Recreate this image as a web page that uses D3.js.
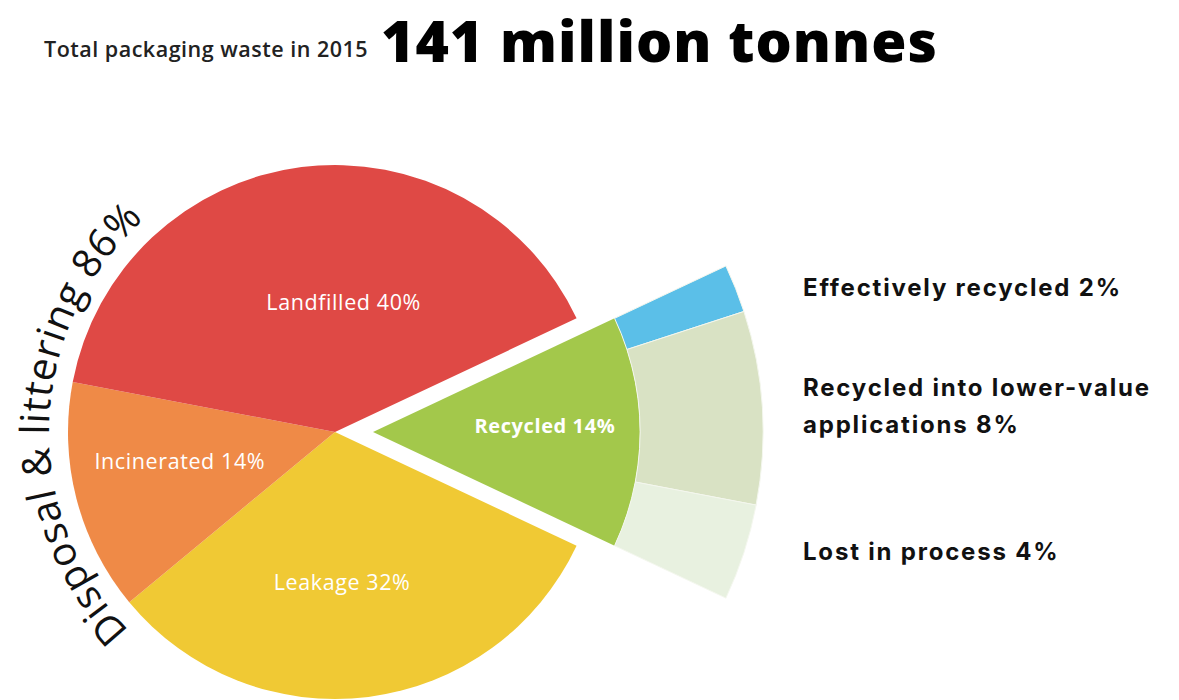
<!doctype html>
<html lang="en">
  <head>
    <meta charset="utf-8">
    <title>Packaging waste 2015</title>
    <script src="https://d3js.org/d3.v7.min.js"></script>
    <style>
      body { margin: 0; background: #fff; }
      svg { display: block; }
    </style>
  </head>
  <body>
    <div class="chart-container"></div>
    <script type="text/javascript">
    // Data
    const totalLabel = "Total packaging waste in 2015";
    const totalValue = "141 million tonnes";

    const mainNames = ["Recycled", "Leakage", "Incinerated", "Landfilled"];
    const mainValues = [14, 32, 14, 40];

    const recycledNames = ["Effectively recycled", "Recycled into lower-value applications", "Lost in process"];
    const recycledValues = [2, 8, 4];

    const groupName = "Disposal & littering";
    const groupValue = 86;

    // Layout
    var width = 1179,
        height = 700,
        cx = 335,
        cy = 432,
        radius = 267,
        ringOuter = 390,
        explode = 38;

    const colors = {
        "Recycled": "#a3c84b",
        "Leakage": "#f0c934",
        "Incinerated": "#ef8a47",
        "Landfilled": "#df4945"
    };
    const ringColors = ["#5bbfe8", "#d9e2c4", "#e8f1e0"];

    const svg = d3.select(".chart-container")
        .append("svg")
        .attr("width", width)
        .attr("height", height);

    // Title
    svg.append("text")
        .attr("x", 44)
        .attr("y", 57)
        .style("font", "600 21.5px 'Open Sans'")
        .attr("letter-spacing", "0.5px")
        .attr("fill", "#222")
        .text(totalLabel);
    svg.append("text")
        .attr("x", 381)
        .attr("y", 62)
        .style("font", "800 57px 'Open Sans'")
        .attr("letter-spacing", "1px")
        .attr("fill", "#000")
        .text(totalValue);

    // Pie: recycled slice centred on 3 o'clock
    const total = d3.sum(mainValues);
    const start = Math.PI / 2 - Math.PI * mainValues[0] / total;
    const pie = d3.pie()
        .sort(null)
        .startAngle(start)
        .endAngle(start + 2 * Math.PI);
    const slices = pie(mainValues);

    const arc = d3.arc().innerRadius(0).outerRadius(radius);

    const gPie = svg.append("g")
        .attr("transform", `translate(${cx},${cy})`);

    const offset = d => {
        if (d.index !== 0) return [0, 0];
        const a = (d.startAngle + d.endAngle) / 2;
        return [explode * Math.sin(a), -explode * Math.cos(a)];
    };

    gPie.selectAll("path.slice")
        .data(slices)
        .join("path")
        .attr("class", "slice")
        .attr("transform", d => `translate(${offset(d)})`)
        .attr("d", arc)
        .attr("fill", (d, i) => colors[mainNames[i]]);

    // Outer ring splitting the recycled share
    const rec = slices[0];
    const recOff = offset(rec);
    const subPie = d3.pie()
        .sort(null)
        .startAngle(rec.startAngle)
        .endAngle(rec.endAngle);
    const subSlices = subPie(recycledValues);
    const ringArc = d3.arc().innerRadius(radius).outerRadius(ringOuter);

    const gRing = gPie.append("g")
        .attr("transform", `translate(${recOff})`);

    gRing.selectAll("path")
        .data(subSlices)
        .join("path")
        .attr("d", ringArc)
        .attr("fill", (d, i) => ringColors[i])
        .attr("stroke", "#f4f7ee")
        .attr("stroke-width", 1);

    // Slice labels
    const labelRadius = {"Recycled": 172, "Leakage": 151, "Incinerated": 158, "Landfilled": 130};
    const labelTurn = {"Recycled": -2, "Leakage": 4.5, "Incinerated": 3.5, "Landfilled": 11};

    gPie.selectAll("text.slice-label")
        .data(slices)
        .join("text")
        .attr("class", "slice-label")
        .attr("transform", (d, i) => {
            const name = mainNames[i];
            const a = (d.startAngle + d.endAngle) / 2 + labelTurn[name] * Math.PI / 180;
            const o = offset(d);
            const r = labelRadius[name];
            return `translate(${o[0] + r * Math.sin(a)},${o[1] - r * Math.cos(a)})`;
        })
        .attr("text-anchor", "middle")
        .attr("dy", "0.35em")
        .attr("fill", "#fff")
        .attr("letter-spacing", "0.6px")
        .style("font", (d, i) => i === 0 ? "700 20px 'Open Sans'" : "400 21.5px 'Open Sans'")
        .text((d, i) => `${mainNames[i]} ${mainValues[i]}%`);

    // Labels for the ring, to the right
    const wrap = {
        "Recycled into lower-value applications": ["Recycled into lower-value", "applications"]
    };
    const ringLabels = svg.append("g")
        .style("font", "700 24px Inter")
        .attr("letter-spacing", "1.8px")
        .attr("fill", "#111");

    subSlices.forEach((d, i) => {
        const a = (d.startAngle + d.endAngle) / 2;
        const y = cy + recOff[1] - ringOuter * Math.cos(a);
        const lines = (wrap[recycledNames[i]] || [recycledNames[i]]).slice();
        lines[lines.length - 1] += ` ${recycledValues[i]}%`;
        const t = ringLabels.append("text")
            .attr("y", y - (lines.length - 1) * 18.5);
        lines.forEach((line, j) => {
            t.append("tspan")
                .attr("x", 803)
                .attr("dy", j === 0 ? "0.3em" : 37)
                .text(line);
        });
    });

    // Curved group label along the disposal slices
    const a0 = 226 * Math.PI / 180,
        a1 = 318 * Math.PI / 180,
        rText = 286;
    const p = d3.path();
    p.moveTo(cx + rText * Math.sin(a0), cy - rText * Math.cos(a0));
    p.arc(cx, cy, rText, a0 - Math.PI / 2, a1 - Math.PI / 2, false);

    svg.append("path")
        .attr("id", "group-arc")
        .attr("d", p.toString())
        .attr("fill", "none");

    svg.append("text")
        .style("font", "400 40px 'Open Sans'")
        .attr("fill", "#111")
        .append("textPath")
        .attr("href", "#group-arc")
        .attr("textLength", rText * (a1 - a0))
        .attr("lengthAdjust", "spacing")
        .text(`${groupName} ${groupValue}%`);
    </script>
  </body>
</html>
